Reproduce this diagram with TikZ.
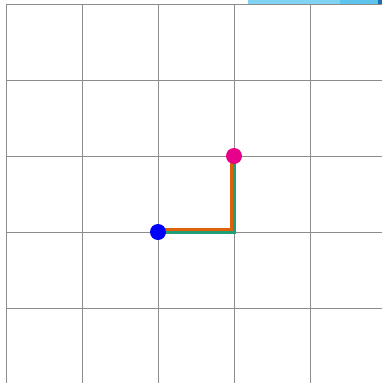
\documentclass[tikz,border=0pt]{standalone}
\usepackage{xcolor}
\usepackage{tikz}
\usetikzlibrary{positioning}
\definecolor{gridgrey}{HTML}{8C8C8C}
\definecolor{pathgreen}{HTML}{1F9E78}
\definecolor{pathorange}{HTML}{DD600A}
\definecolor{goalpink}{HTML}{E6008A}
\definecolor{barlight}{HTML}{80D4F2}
\definecolor{barmid}{HTML}{5EC4EC}
\definecolor{bardark}{HTML}{1E6FB0}

\begin{document}
\begin{tikzpicture}[
  x=1pt, y=-1pt,
  gridline/.style={draw=gridgrey, line width=1pt},
  dot/.style={circle, inner sep=0pt, minimum size=16pt},
  route/.style={line width=3.2pt}
]
  \useasboundingbox (0,0) rectangle (382,383);
  \clip (0,0) rectangle (382,383);

  % strip at the top edge
  \fill[barlight] (248,0) rectangle (340,4);
  \fill[barmid] (340,0) rectangle (378,4);
  \fill[bardark] (378,0) rectangle (382,4);

  % grid
  \foreach \k in {0,...,5} {
    \draw[gridline] (6+76*\k,4) -- (6+76*\k,390);
    \draw[gridline] (6,4+76*\k) -- (390,4+76*\k);
  }

  \coordinate (start) at (158,232);
  \coordinate (goal) at (234,156);

  % the two routes
  \draw[route, pathgreen] ([yshift=-0.3pt]start) -| ([xshift=0.8pt]goal);
  \draw[route, pathorange] ([yshift=2.7pt]start) -| ([xshift=-2.2pt]goal);

  \node[dot, fill=blue] (startdot) at (start) {};
  \node[dot, fill=goalpink] (goaldot) at (goal) {};

\end{tikzpicture}
\end{document}
